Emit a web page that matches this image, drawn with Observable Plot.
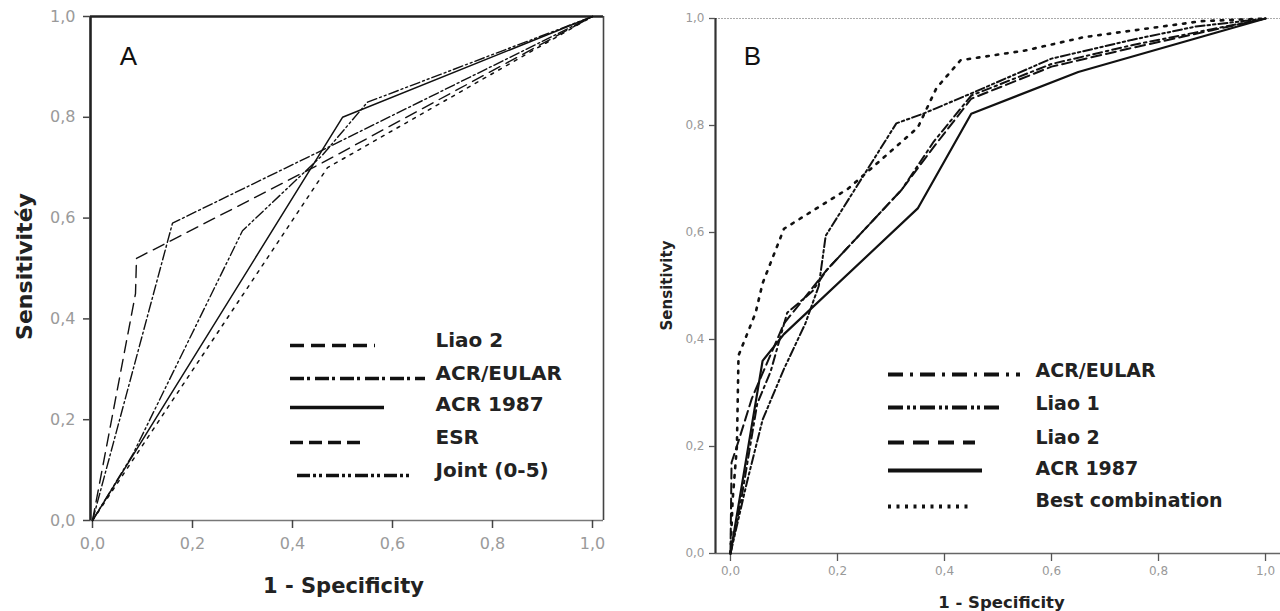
<!DOCTYPE html>
<html><head><meta charset="utf-8">
<script src="https://cdn.jsdelivr.net/npm/d3@7"></script>
<script src="https://cdn.jsdelivr.net/npm/@observablehq/plot@0.6"></script>
<style>
html,body{margin:0;padding:0;background:#fff;}
#wrap{position:relative;width:1280px;height:611px;overflow:hidden;background:#fff;}
#a,#b{position:absolute;top:0;}
#a{left:0}#b{left:640px}
</style></head><body><div id="wrap"><div id="a"></div><div id="b"></div></div>
<script>
// ---------- shared ticks ----------
const ticks = [0, 0.2, 0.4, 0.6, 0.8, 1.0];
const tickLabels = ["0,0", "0,2", "0,4", "0,6", "0,8", "1,0"];
const fmt = d => tickLabels[ticks.findIndex(t => Math.abs(t - d) < 1e-9)];

// ---------- Panel A data ----------
const aNames = ["Liao 2", "ACR/EULAR", "ACR 1987", "ESR", "Joint (0-5)"];
const aLiao2X = [0, 0.086, 0.088, 0.46, 1];
const aLiao2Y = [0, 0.45, 0.52, 0.71, 1];
const aEularX = [0, 0.16, 0.46, 1];
const aEularY = [0, 0.59, 0.735, 1];
const aAcrX = [0, 0.5, 1];
const aAcrY = [0, 0.8, 1];
const aEsrX = [0, 0.47, 1];
const aEsrY = [0, 0.70, 1];
const aJointX = [0, 0.08, 0.3, 0.46, 0.55, 1];
const aJointY = [0, 0.13, 0.575, 0.725, 0.83, 1];

// ---------- Panel B data ----------
const bNames = ["ACR/EULAR", "Liao 1", "Liao 2", "ACR 1987", "Best combination"];
const bEularX = [0, 0.02, 0.05, 0.075, 0.106, 0.153, 0.18, 0.32, 0.38, 0.45, 0.6, 0.75, 0.9, 1];
const bEularY = [0, 0.1, 0.28, 0.34, 0.45, 0.49, 0.53, 0.68, 0.77, 0.856, 0.915, 0.95, 0.98, 1];
const bLiao1X = [0, 0.03, 0.06, 0.1, 0.14, 0.165, 0.178, 0.31, 0.36, 0.45, 0.6, 0.75, 0.87, 1];
const bLiao1Y = [0, 0.13, 0.25, 0.345, 0.43, 0.5, 0.594, 0.804, 0.822, 0.86, 0.925, 0.96, 0.985, 1];
const bLiao2X = [0, 0.002, 0.015, 0.04, 0.07, 0.1, 0.18, 0.32, 0.38, 0.45, 0.6, 0.75, 0.9, 1];
const bLiao2Y = [0, 0.17, 0.21, 0.29, 0.36, 0.43, 0.53, 0.68, 0.76, 0.85, 0.91, 0.945, 0.978, 1];
const bAcrX = [0, 0.06, 0.1, 0.35, 0.45, 0.65, 1];
const bAcrY = [0, 0.36, 0.41, 0.645, 0.822, 0.9, 1];
const bBestX = [0, 0.004, 0.012, 0.015, 0.047, 0.06, 0.1, 0.22, 0.35, 0.385, 0.43, 0.55, 0.66, 0.88, 1];
const bBestY = [0, 0.1, 0.2, 0.37, 0.45, 0.505, 0.607, 0.682, 0.796, 0.87, 0.922, 0.94, 0.965, 0.995, 1];

const toRows = (xs, ys) => xs.map((x, i) => ({x, y: ys[i]}));

// ---------- Panel A ----------
{
  const W = 640, H = 611, mL = 90, mR = 37, mT = 16, mB = 91;
  const xd = [-0.004, 1.022], yd = [0, 1];
  const px = p => xd[0] + (p - mL) / (W - mL - mR) * (xd[1] - xd[0]);
  const py = p => (H - mB - p) / (H - mB - mT);
  const series = [
    {rows: toRows(aLiao2X, aLiao2Y), dash: "12,7", lw: 1.4},
    {rows: toRows(aEularX, aEularY), dash: "10,3,2,3", lw: 1.4},
    {rows: toRows(aAcrX, aAcrY), dash: null, lw: 1.5},
    {rows: toRows(aEsrX, aEsrY), dash: "3,6", lw: 1.5},
    {rows: toRows(aJointX, aJointY), dash: "10,3,2,3,2,3", lw: 1.4}
  ];
  // legend layout (pixels)
  const legY = [345, 378, 407, 442, 475];
  const legX1 = [290, 290, 290, 290, 297];
  const legX2 = [375, 425, 384, 361, 410];
  const legDash = ["14,7", "14,3,3,5", null, "13,6", "13,3,3,3,3,4"];
  const legTxtY = [340, 373, 404, 437, 470];
  const marks = [
    Plot.ruleY([0], {stroke: "#777", strokeWidth: 1.3}),
    Plot.ruleY([1], {stroke: "#222", strokeWidth: 2.6}),
    Plot.ruleX([xd[0]], {stroke: "#222", strokeWidth: 2.6}),
    Plot.ruleX([xd[1]], {stroke: "#444", strokeWidth: 1.6}),
    Plot.axisX(ticks, {tickFormat: fmt, tickSize: 8, tickPadding: 9, fontSize: 16, fill: "#9a9a9a", stroke: "#444", strokeWidth: 1.5, label: null}),
    Plot.axisY(ticks, {tickFormat: fmt, tickSize: 7, tickPadding: 8, fontSize: 16, fill: "#9a9a9a", stroke: "#444", strokeWidth: 1.5, label: null}),
    ...series.map(s => Plot.line(s.rows, {x: "x", y: "y", stroke: "#111", strokeWidth: s.lw, strokeDasharray: s.dash})),
    ...aNames.map((n, i) => Plot.ruleY([py(legY[i])], {x1: px(legX1[i]), x2: px(legX2[i]), stroke: "#111", strokeWidth: 3.6, strokeDasharray: legDash[i]})),
    Plot.text(aNames.map((n, i) => ({n, x: px(435), y: py(legTxtY[i])})), {x: "x", y: "y", text: "n", textAnchor: "start", fontSize: 20, fontWeight: "bold", fill: "#222", fontFamily: "DejaVu Sans"}),
    Plot.text(["A"], {x: px(128), y: py(56), fontSize: 26, fill: "#111", fontFamily: "Liberation Sans"}),
    Plot.text(["1 - Specificity"], {x: px(343), y: py(586), fontSize: 21, fontWeight: "bold", fill: "#222", fontFamily: "DejaVu Sans"}),
    Plot.text(["Sensitivitéy"], {x: px(24), y: py(266), rotate: -90, fontSize: 22, fontWeight: "bold", fill: "#222", fontFamily: "DejaVu Sans"})
  ];
  const chart = Plot.plot({
    width: W, height: H, marginLeft: mL, marginRight: mR, marginTop: mT, marginBottom: mB,
    x: {domain: xd}, y: {domain: yd},
    style: {fontFamily: "DejaVu Sans", background: "white"},
    marks
  });
  document.getElementById("a").appendChild(chart);
}

// ---------- Panel B ----------
{
  const W = 640, H = 611, mL = 75, mR = 0, mT = 18, mB = 58;
  const xd = [-0.028, 1.028], yd = [0, 1];
  const px = p => xd[0] + (p - 640 - mL) / (W - mL - mR) * (xd[1] - xd[0]);
  const py = p => (H - mB - p) / (H - mB - mT);
  const series = [
    {rows: toRows(bEularX, bEularY), dash: "9,4,2.5,4", lw: 2},
    {rows: toRows(bLiao1X, bLiao1Y), dash: "9,3,2.5,3,2.5,3", lw: 2},
    {rows: toRows(bLiao2X, bLiao2Y), dash: "10,5", lw: 2},
    {rows: toRows(bAcrX, bAcrY), dash: null, lw: 2.2},
    {rows: toRows(bBestX, bBestY), dash: "2.5,7", lw: 2.6}
  ];
  const legY = [374, 407, 442, 470, 506];
  const legX1 = [888, 888, 888, 888, 888];
  const legX2 = [1020, 1003, 975, 982, 968];
  const legDash = ["15,7,3,7", "15,4,3,3,3,4", "16,9", null, "3,5.5"];
  const legTxtY = [370, 403, 437, 468, 500];
  const marks = [
    Plot.ruleY([1], {stroke: "#aaa", strokeWidth: 1, strokeDasharray: "2,1"}),
    Plot.ruleY([0], {stroke: "#666", strokeWidth: 1.6}),
    Plot.ruleX([xd[0]], {stroke: "#333", strokeWidth: 2.2}),
    Plot.axisX(ticks, {tickFormat: fmt, tickSize: 8, tickPadding: 5, fontSize: 12, fill: "#999", stroke: "#555", strokeWidth: 1.3, label: null}),
    Plot.axisY(ticks, {tickFormat: fmt, tickSize: 6, tickPadding: 5, fontSize: 12, fill: "#999", stroke: "#555", strokeWidth: 1.3, label: null}),
    ...series.map(s => Plot.line(s.rows, {x: "x", y: "y", stroke: "#111", strokeWidth: s.lw, strokeDasharray: s.dash})),
    ...bNames.map((n, i) => Plot.ruleY([py(legY[i])], {x1: px(legX1[i]), x2: px(legX2[i]), stroke: "#111", strokeWidth: 4, strokeDasharray: legDash[i]})),
    Plot.text(bNames.map((n, i) => ({n, x: px(1035), y: py(legTxtY[i])})), {x: "x", y: "y", text: "n", textAnchor: "start", fontSize: 19, fontWeight: "bold", fill: "#222", fontFamily: "DejaVu Sans"}),
    Plot.text(["B"], {x: px(752), y: py(56), fontSize: 26, fill: "#111", fontFamily: "Liberation Sans"}),
    Plot.text(["1 - Specificity"], {x: px(1001), y: py(602), fontSize: 16.5, fontWeight: "bold", fill: "#222", fontFamily: "DejaVu Sans"}),
    Plot.text(["Sensitivity"], {x: px(667), y: py(285), rotate: -90, fontSize: 15, fontWeight: "bold", fill: "#222", fontFamily: "DejaVu Sans"})
  ];
  const chart = Plot.plot({
    width: W, height: H, marginLeft: mL, marginRight: mR, marginTop: mT, marginBottom: mB,
    x: {domain: xd}, y: {domain: yd},
    style: {fontFamily: "DejaVu Sans", background: "white", overflow: "visible"},
    marks
  });
  document.getElementById("b").appendChild(chart);
}
</script></body></html>
